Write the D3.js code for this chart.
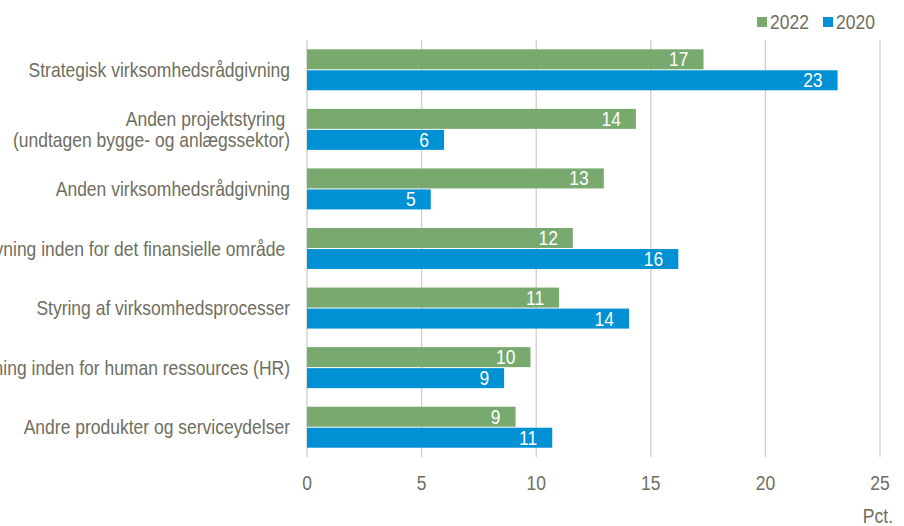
<!DOCTYPE html>
<html><head><meta charset="utf-8">
<script src="https://cdn.jsdelivr.net/npm/d3@7"></script>
<style>body{margin:0;background:#fff}svg text{font-family:"Liberation Sans",Arial,sans-serif;white-space:pre}</style>
</head><body><svg id="c" width="904" height="526"></svg>
<script>
const categories = ["Strategisk virksomhedsrådgivning","Anden projektstyring |(undtagen bygge- og anlægssektor)","Anden virksomhedsrådgivning","Rådgivning inden for det finansielle område ","Styring af virksomhedsprocesser","Rådgivning inden for human ressources (HR)","Andre produkter og serviceydelser"];
const values2022 = [17.3, 14.35, 12.95, 11.6, 11.0, 9.75, 9.1];
const values2020 = [23.15, 5.98, 5.4, 16.2, 14.05, 8.6, 10.7];
const labels2022 = ["17","14","13","12","11","10","9"];
const labels2020 = ["23","6","5","16","14","9","11"];
const xTicks = [0,5,10,15,20,25];
const seriesNames = ["2022","2020"];
const colors = ["#78a96f","#0090d4"];

const svg = d3.select("#c");
const x = d3.scaleLinear().domain([0,25]).range([307,880]);
const y = d3.scaleBand().domain(categories).range([40,457]).padding(0);
const bh = 20, gap = 1, fs = 17.5, sy = 1.12;
const textCol = "#6e6e60";
const tr = (a,b)=>`translate(${a},${b}) scale(1,${sy})`;

svg.append("g").selectAll("line").data(xTicks).join("line")
  .attr("x1",d=>x(d)).attr("x2",d=>x(d)).attr("y1",40).attr("y2",457)
  .attr("stroke","#cfcfc6").attr("stroke-width",1.3);
svg.append("g").selectAll("text").data(xTicks).join("text")
  .attr("transform",d=>tr(x(d),490)).attr("text-anchor","middle")
  .attr("font-size",fs).attr("fill",textCol).text(d=>d);
svg.append("text").attr("transform",tr(893,523)).attr("text-anchor","end")
  .attr("font-size",fs).attr("fill",textCol).text("Pct.");

const g = svg.append("g");
categories.forEach((c,i)=>{
  const cy = y(c)+y.bandwidth()/2;
  const rows = [[values2022[i],labels2022[i],0,cy-gap/2-bh],[values2020[i],labels2020[i],1,cy+gap/2]];
  rows.forEach(([v,l,k,yy])=>{
    g.append("rect").attr("x",x(0)).attr("y",yy).attr("width",x(v)-x(0)).attr("height",bh).attr("fill",colors[k]);
    g.append("text").attr("transform",tr(x(v)-15,yy+bh/2+7)).attr("text-anchor","end")
      .attr("font-size",fs).attr("fill","#fff").text(l);
  });
  const parts = c.split("|");
  const t = g.append("text").attr("transform",tr(290,cy+7)).attr("text-anchor","end").attr("font-size",fs).attr("fill",textCol);
  parts.forEach((p,j)=>{
    t.append("tspan").attr("x",0).attr("y",(j-(parts.length-1)/2)*21/sy).text(p);
  });
});

const leg = svg.append("g");
const lx = [757,823];
seriesNames.forEach((s,k)=>{
  leg.append("rect").attr("x",lx[k]).attr("y",17).attr("width",10).attr("height",10).attr("fill",colors[k]);
  leg.append("text").attr("transform",tr(lx[k]+13,29)).attr("font-size",fs).attr("fill",textCol).text(s);
});
</script></body></html>
